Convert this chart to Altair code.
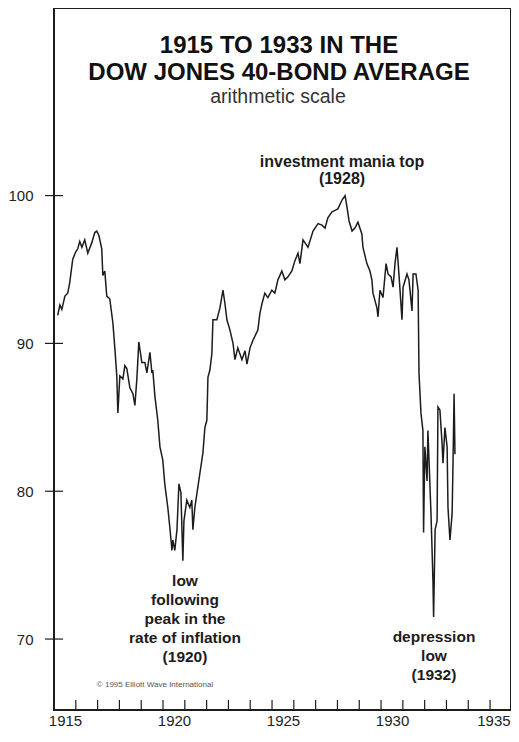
import altair as alt
import pandas as pd

# Dow Jones 40-bond average
years = [1915.17, 1915.27, 1915.36, 1915.50, 1915.63, 1915.72, 1915.86, 1916.00, 1916.09, 1916.18,
         1916.28, 1916.41, 1916.55, 1916.73, 1916.87, 1916.96, 1917.06, 1917.19, 1917.24, 1917.33,
         1917.42, 1917.56, 1917.70, 1917.79, 1917.88, 1917.93, 1918.02, 1918.16, 1918.25, 1918.34,
         1918.48, 1918.62, 1918.71, 1918.80, 1918.89, 1919.03, 1919.17, 1919.26, 1919.40, 1919.49,
         1919.53, 1919.63, 1919.76, 1919.86, 1919.99, 1920.08, 1920.22, 1920.31, 1920.41, 1920.45,
         1920.54, 1920.64, 1920.73, 1920.82, 1920.91, 1920.96, 1921.09, 1921.23, 1921.32, 1921.37,
         1921.46, 1921.60, 1921.69, 1921.83, 1921.92, 1922.01, 1922.03, 1922.06, 1922.15, 1922.24,
         1922.29, 1922.47, 1922.61, 1922.75, 1922.84, 1922.93, 1923.07, 1923.21, 1923.30, 1923.43,
         1923.62, 1923.76, 1923.85, 1923.99, 1924.12, 1924.35, 1924.44, 1924.54, 1924.67, 1924.81,
         1924.99, 1925.13, 1925.27, 1925.45, 1925.59, 1925.73, 1925.91, 1926.05, 1926.19, 1926.28,
         1926.42, 1926.65, 1926.88, 1927.11, 1927.29, 1927.43, 1927.56, 1927.75, 1927.89, 1928.02,
         1928.21, 1928.35, 1928.44, 1928.53, 1928.67, 1928.80, 1928.94, 1929.12, 1929.17, 1929.35,
         1929.49, 1929.58, 1929.63, 1929.81, 1929.86, 1929.95, 1930.09, 1930.23, 1930.32, 1930.46,
         1930.55, 1930.64, 1930.73, 1930.82, 1930.96, 1931.01, 1931.19, 1931.28, 1931.42, 1931.47,
         1931.60, 1931.70, 1931.74, 1931.83, 1931.92, 1931.95, 1932.01, 1932.11, 1932.15, 1932.29,
         1932.38, 1932.41, 1932.48, 1932.57, 1932.61, 1932.70, 1932.80, 1932.84, 1932.93, 1933.03,
         1933.07, 1933.16, 1933.26, 1933.30, 1933.35, 1933.39]
values = [91.9, 92.6, 92.3, 93.2, 93.4, 94.1, 95.7, 96.2, 96.4, 96.9,
          96.5, 97.0, 96.1, 96.8, 97.5, 97.6, 97.3, 96.4, 94.6, 94.9,
          93.2, 93.0, 91.4, 89.7, 87.8, 85.3, 87.8, 87.6, 88.5, 88.3,
          87.0, 86.6, 85.8, 87.6, 90.1, 88.7, 88.7, 88.0, 89.4, 88.0,
          88.2, 86.4, 84.8, 83.0, 82.1, 80.5, 78.9, 77.6, 76.0, 76.7,
          76.0, 77.4, 80.5, 79.9, 75.3, 78.0, 79.4, 78.9, 79.4, 77.4,
          78.9, 80.3, 81.2, 82.6, 84.3, 84.8, 85.9, 87.7, 88.2, 89.3,
          91.6, 91.6, 92.4, 93.6, 92.7, 91.6, 90.9, 90.0, 88.9, 89.7,
          88.9, 89.5, 88.6, 89.7, 90.2, 90.9, 92.0, 92.7, 93.4, 93.1,
          93.6, 93.4, 94.3, 94.9, 94.3, 94.5, 94.9, 95.6, 96.1, 95.4,
          97.0, 96.5, 97.6, 98.1, 98.0, 97.8, 98.5, 98.9, 99.0, 99.1,
          99.7, 100.0, 99.2, 98.3, 97.6, 97.8, 98.2, 97.4, 96.5, 95.4,
          94.9, 94.3, 93.4, 92.4, 91.8, 93.6, 93.1, 95.4, 94.7, 94.5,
          93.8, 95.4, 96.5, 94.7, 91.6, 93.8, 94.7, 94.3, 92.2, 94.7,
          94.7, 93.6, 88.0, 85.3, 84.1, 77.2, 83.0, 80.7, 84.1, 78.5,
          74.0, 71.5, 77.4, 78.0, 85.7, 85.5, 83.2, 81.9, 84.3, 83.0,
          78.9, 76.7, 78.5, 81.9, 86.6, 82.5]

x_label_years = [1915, 1920, 1925, 1930, 1935]
x_tick_years = list(range(1916, 1936))
y_ticks = [70, 80, 90, 100]

title_lines = ["1915 TO 1933 IN THE", "DOW JONES 40-BOND AVERAGE"]
subtitle = "arithmetic scale"
note_top = ["investment mania top", "(1928)"]
note_1920 = ["low", "following", "peak in the", "rate of inflation", "(1920)"]
note_1932 = ["depression", "low", "(1932)"]
copyright_text = "© 1995 Elliott Wave International"

W, H = 457, 702
FONT = "Liberation Sans"
INK = "#1c1c1c"

xs = alt.Scale(domain=[1915, 1935.96], nice=False, zero=False)
ys = alt.Scale(domain=[65.2, 112.69], nice=False, zero=False)

last_label = "datum.value === 1935"
x_axis = alt.Axis(
    values=x_label_years, format="d", ticks=False, domain=False, grid=False,
    labelOffset={"condition": {"test": last_label, "value": 20}, "value": 11},
    labelAlign={"condition": {"test": last_label, "value": "right"}, "value": "center"},
    labelPadding=3, labelFontSize=15, labelFont=FONT,
    labelColor="#222", labelFlush=False, labelOverlap=False, labelBound=False, title=None)
y_axis = alt.Axis(
    values=y_ticks, format="d", ticks=False, domain=False, grid=False,
    labelPadding=21, labelFontSize=15, labelFont=FONT, labelColor="#222",
    labelOverlap=False, title=None)

df = pd.DataFrame({"year": years, "value": values})

line = alt.Chart(df).mark_line(color=INK, strokeWidth=1.5).encode(
    x=alt.X("year:Q", scale=xs, axis=x_axis),
    y=alt.Y("value:Q", scale=ys, axis=y_axis),
)

ytick_rules = alt.Chart(pd.DataFrame({"value": y_ticks})).mark_rule(
    color=INK, strokeWidth=1.2).encode(
    y=alt.Y("value:Q", scale=ys, axis=y_axis),
    x=alt.value(-9), x2=alt.value(9))

xtick_rules = alt.Chart(pd.DataFrame({"year": x_tick_years})).mark_rule(
    color=INK, strokeWidth=1.2).encode(
    x=alt.X("year:Q", scale=xs, axis=x_axis),
    y=alt.value(H - 10), y2=alt.value(H))

one = pd.DataFrame({"a": [0]})

def txt(text, x, y, size, bold=True, lh=None, color=INK):
    kw = dict(text=text, font=FONT, fontSize=size, align="center",
              baseline="alphabetic", color=color,
              fontWeight="bold" if bold else "normal")
    if lh:
        kw["lineHeight"] = lh
    return alt.Chart(one).mark_text(**kw).encode(x=alt.value(x), y=alt.value(y))

layers = [
    line, ytick_rules, xtick_rules,
    txt(title_lines, 225, 45, 24, True, 27, "#111"),
    txt(subtitle, 224, 95, 19.5, False, None, "#333"),
    txt(note_top, 288, 159, 16, True, 17),
    txt(note_1920, 131, 578, 15.5, True, 19),
    txt(note_1932, 380, 634, 15.5, True, 19),
    txt(copyright_text, 101, 679, 8, False, None, "#555"),
]

chart = alt.layer(*layers).properties(
    width=W, height=H,
    autosize=alt.AutoSizeParams(type="none"),
    padding={"left": 46, "top": 0, "right": 0, "bottom": 20},
).configure_view(stroke=INK, strokeWidth=2)

chart.save("out.html", embed_options={"renderer": "svg", "actions": False})
